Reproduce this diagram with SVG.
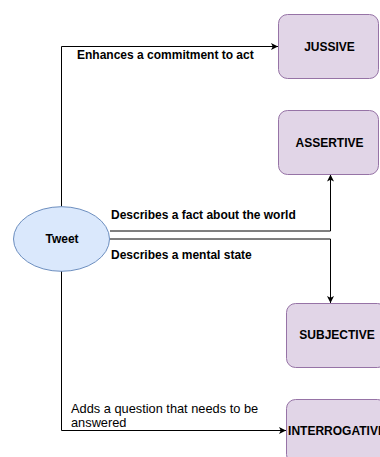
<svg xmlns="http://www.w3.org/2000/svg" width="380" height="457" viewBox="0 0 380 457">
  <style>
    .box { fill: #e1d5e7; stroke: #9673a6; stroke-width: 1; }
    .ell { fill: #dae8fc; stroke: #6c8ebf; stroke-width: 1; }
    .edge { fill: none; stroke: #000000; stroke-width: 1; }
    .lbl { font-family: "Liberation Sans", Arial, Helvetica, sans-serif; font-size: 12px; font-weight: bold; fill: #000000; }
    .lblr { font-family: "Liberation Sans", Arial, Helvetica, sans-serif; font-size: 12.8px; fill: #000000; }
    .node { font-family: "Liberation Sans", Arial, Helvetica, sans-serif; font-size: 12px; font-weight: bold; fill: #000000; text-anchor: middle; }
  </style>
  <defs>
    <marker id="arrow" markerUnits="userSpaceOnUse" markerWidth="10" markerHeight="10" refX="7" refY="3.5" orient="auto">
      <path d="M0,0 L7,3.5 L0,7 L1.75,3.5 z" fill="#000000"/>
    </marker>
  </defs>

  <g id="connectors">
    <path class="edge" d="M61.5 206.5 V46.5 H278" marker-end="url(#arrow)"/>
    <path class="edge" d="M110 231 H330.5 V174.5" marker-end="url(#arrow)"/>
    <path class="edge" d="M110 239 H330.5 V303" marker-end="url(#arrow)"/>
    <path class="edge" d="M61.5 271 V430.5 H286" marker-end="url(#arrow)"/>
    <text class="lbl" x="77" y="59">Enhances a commitment to act</text>
    <text class="lbl" x="111" y="219">Describes a fact about the world</text>
    <text class="lbl" x="111" y="259">Describes a mental state</text>
    <text class="lblr" x="71" y="413">Adds a question that needs to be</text>
    <text class="lblr" x="71" y="426.5">answered</text>
  </g>

  <g id="tweet">
    <ellipse class="ell" cx="61.5" cy="239" rx="48" ry="32.3"/>
    <text class="node" x="62" y="243.3">Tweet</text>
  </g>

  <g id="jussive">
    <rect class="box" x="278.5" y="14.5" width="100" height="64" rx="9" ry="9"/>
    <text class="node" x="329.5" y="51">JUSSIVE</text>
  </g>

  <g id="assertive">
    <rect class="box" x="278.5" y="110.5" width="100" height="64" rx="9" ry="9"/>
    <text class="node" x="329.5" y="147">ASSERTIVE</text>
  </g>

  <g id="subjective">
    <rect class="box" x="286.5" y="303.5" width="100" height="64" rx="9" ry="9"/>
    <text class="node" x="337" y="339">SUBJECTIVE</text>
  </g>

  <g id="interrogative">
    <rect class="box" x="286.5" y="399.5" width="100" height="64" rx="9" ry="9"/>
    <text class="node" x="337" y="435">INTERROGATIVE</text>
  </g>
</svg>
